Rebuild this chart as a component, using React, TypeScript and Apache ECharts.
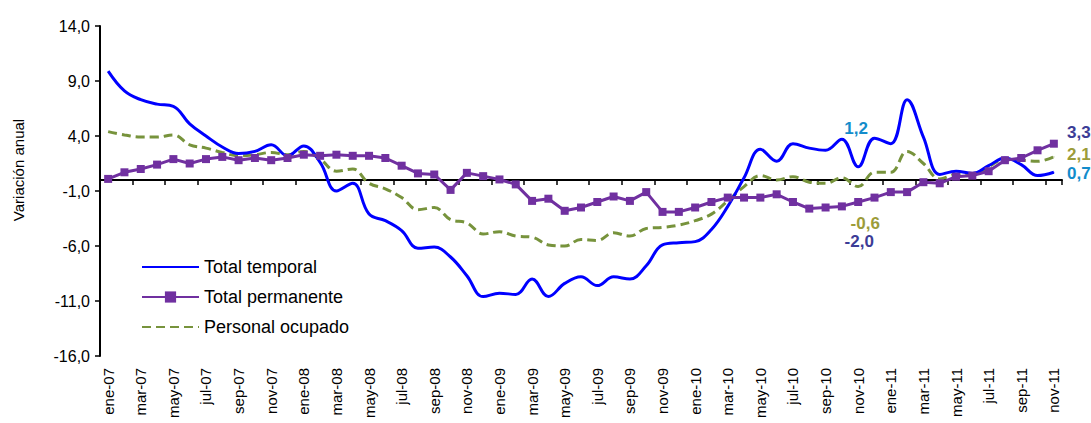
import React, { useEffect, useRef } from "react";
import * as echarts from "echarts";

const categories = [
  "ene-07","feb-07","mar-07","abr-07","may-07","jun-07","jul-07","ago-07","sep-07","oct-07","nov-07","dic-07",
  "ene-08","feb-08","mar-08","abr-08","may-08","jun-08","jul-08","ago-08","sep-08","oct-08","nov-08","dic-08",
  "ene-09","feb-09","mar-09","abr-09","may-09","jun-09","jul-09","ago-09","sep-09","oct-09","nov-09","dic-09",
  "ene-10","feb-10","mar-10","abr-10","may-10","jun-10","jul-10","ago-10","sep-10","oct-10","nov-10","dic-10",
  "ene-11","feb-11","mar-11","abr-11","may-11","jun-11","jul-11","ago-11","sep-11","oct-11","nov-11",
];

const totalTemporal = [
  9.9, 8.1, 7.3, 6.9, 6.7, 5.1, 4.0, 3.0, 2.4, 2.6, 3.2, 2.2,
  3.1, 1.6, -1.0, -0.3, -3.1, -3.7, -4.6, -6.2, -6.1, -7.0, -8.7, -10.6,
  -10.3, -10.4, -9.0, -10.6, -9.4, -8.8, -9.6, -8.8, -9.0, -7.8, -5.9, -5.7,
  -5.6, -4.5, -2.4, 0.2, 2.8, 1.7, 3.3, 2.9, 2.7, 3.7, 1.2, 3.8,
  3.3, 7.3, 3.9, 0.5, 0.8, 0.6, 1.3, 2.0, 1.4, 0.4, 0.7,
];

const totalPermanente = [
  0.1, 0.7, 1.0, 1.4, 1.9, 1.5, 1.9, 2.1, 1.8, 2.0, 1.8, 2.0,
  2.3, 2.2, 2.3, 2.2, 2.2, 2.0, 1.3, 0.6, 0.5, -0.9, 0.65, 0.35,
  0.05, -0.4, -1.9, -1.7, -2.8, -2.5, -2.0, -1.5, -1.9, -1.1, -2.9, -2.9,
  -2.5, -2.0, -1.6, -1.6, -1.6, -1.3, -2.0, -2.6, -2.5, -2.4, -2.0, -1.6,
  -1.1, -1.1, -0.2, -0.3, 0.3, 0.4, 0.8, 1.8, 2.0, 2.7, 3.3,
];

const personalOcupado = [
  4.4, 4.1, 3.9, 3.9, 4.1, 3.2, 2.9, 2.5, 2.2, 2.3, 2.5, 2.3,
  2.6, 1.9, 0.8, 1.0, -0.3, -0.8, -1.6, -2.7, -2.5, -3.6, -3.9, -4.9,
  -4.7, -5.1, -5.2, -5.9, -6.0, -5.4, -5.5, -4.8, -5.1, -4.4, -4.3, -4.1,
  -3.7, -3.1, -1.9, -0.6, 0.4, 0.0, 0.3, -0.2, -0.3, 0.2, -0.6, 0.7,
  0.7, 2.6, 1.5, 0.1, 0.5, 0.4, 1.2, 1.9, 1.8, 1.7, 2.1,
];

const yTicks = { min: -16, max: 14, interval: 5 };

const FONT = '"Liberation Sans", Arial, sans-serif';
const fmt = (v: number) => v.toFixed(1).replace(".", ",");

const labelIdx = { nov10: 46, nov11: 58 };

function withLabels(
  values: number[],
  color: string,
  offsets: Record<number, [number, number]>,
  itemSymbol?: string
) {
  return values.map((v, i) => {
    const off = offsets[i];
    if (!off) return v;
    const item: any = {
      value: v,
      label: {
        show: true,
        position: "inside",
        offset: off,
        formatter: () => fmt(v),
        color,
        fontFamily: FONT,
        fontWeight: "bold",
        fontSize: 17,
      },
    };
    if (itemSymbol) {
      item.symbol = itemSymbol;
      item.symbolSize = 1;
    }
    return item;
  });
}

export default function App() {
  const ref = useRef<HTMLDivElement>(null);
  useEffect(() => {
    if (!ref.current) return;
    const chart = echarts.init(ref.current, undefined, { renderer: "svg" });
    const option: any = {
      animation: false,
      backgroundColor: "#ffffff",
      textStyle: { fontFamily: FONT },
      grid: { left: 100, right: 29, top: 26, bottom: 67, outerBoundsMode: "none" },
      legend: {
        data: [
          { name: "Total temporal", itemStyle: { opacity: 0 } },
          { name: "Total permanente" },
          { name: "Personal ocupado", itemStyle: { opacity: 0 } },
        ],
        orient: "vertical",
        left: 136,
        top: 252,
        itemWidth: 57,
        itemHeight: 14,
        itemGap: 10,
        textStyle: { fontSize: 18, color: "#000", fontFamily: FONT, lineHeight: 20 },
      },
      xAxis: [
        {
          type: "category",
          data: categories,
          boundaryGap: true,
          position: "bottom",
          axisLine: { show: false, onZero: false },
          axisTick: { show: false },
          axisLabel: {
            interval: 1,
            rotate: 90,
            margin: 12,
            fontSize: 15,
            color: "#000",
            fontFamily: FONT,
            padding: [8, 0, 0, 0],
          },
        },
        {
          type: "category",
          data: categories,
          boundaryGap: true,
          position: "bottom",
          axisLine: { show: true, onZero: true, lineStyle: { color: "#000", width: 2 } },
          axisTick: { show: true, interval: 1, length: 5, lineStyle: { color: "#000", width: 1.5 } },
          axisLabel: { show: false },
        },
      ],
      yAxis: {
        type: "value",
        min: yTicks.min,
        max: yTicks.max,
        interval: yTicks.interval,
        axisLine: { show: true, onZero: false, lineStyle: { color: "#000", width: 2 } },
        axisTick: { show: true, length: 5, lineStyle: { color: "#000", width: 1.5 } },
        splitLine: { show: false },
        axisLabel: {
          formatter: (v: number) => fmt(v),
          fontSize: 16,
          color: "#000",
          fontFamily: FONT,
          margin: 10,
        },
      },
      graphic: [
        {
          type: "text",
          x: 18,
          y: 170,
          rotation: Math.PI / 2,
          style: {
            text: "Variación anual",
            font: `15px ${FONT}`,
            fill: "#000",
            align: "center",
            verticalAlign: "middle",
          },
        },
      ],
      series: [
        {
          name: "Personal ocupado",
          type: "line",
          xAxisIndex: 0,
          smooth: 0.4,
          symbol: "none",
          showSymbol: true,
          showAllSymbol: true,
          itemStyle: { color: "#77933C" },
          lineStyle: { color: "#77933C", width: 3, type: [9, 5] },
          data: withLabels(personalOcupado, "#9C9C3A", {
            [labelIdx.nov10]: [7, 37],
            [labelIdx.nov11]: [25, -2],
          }, "circle"),
          z: 2,
        },
        {
          name: "Total temporal",
          type: "line",
          xAxisIndex: 0,
          smooth: 0.4,
          symbol: "none",
          showSymbol: true,
          showAllSymbol: true,
          itemStyle: { color: "#0000FF" },
          lineStyle: { color: "#0000FF", width: 3 },
          data: withLabels(totalTemporal, "#138CCB", {
            [labelIdx.nov10]: [-2, -38],
            [labelIdx.nov11]: [25, 1],
          }, "circle"),
          z: 3,
        },
        {
          name: "Total permanente",
          type: "line",
          xAxisIndex: 0,
          symbol: "rect",
          symbolSize: 8,
          showSymbol: true,
          showAllSymbol: true,
          itemStyle: { color: "#7030A0" },
          lineStyle: { color: "#7030A0", width: 3 },
          data: withLabels(totalPermanente, "#3C3C96", {
            [labelIdx.nov10]: [1, 39],
            [labelIdx.nov11]: [25, -11],
          }),
          z: 4,
        },
      ],
    };
    chart.setOption(option);
    return () => chart.dispose();
  }, []);
  return (
    <div
      ref={ref}
      style={{ position: "absolute", left: 0, top: 0, width: 1091, height: 423 }}
    />
  );
}
